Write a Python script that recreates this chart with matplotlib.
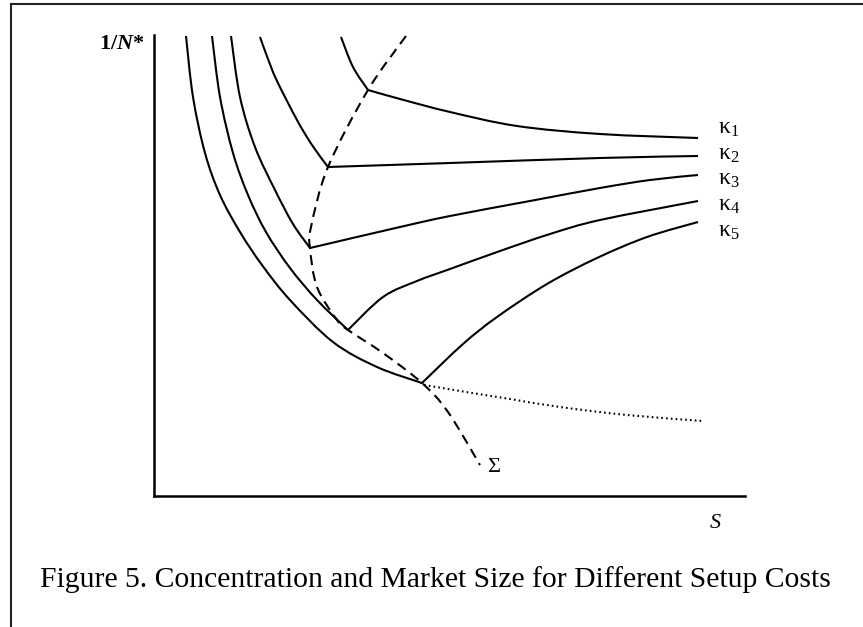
import matplotlib
matplotlib.use('Agg')
import matplotlib.pyplot as plt
import numpy as np
from matplotlib.lines import Line2D
from matplotlib.path import Path
from matplotlib.patches import PathPatch

plt.rcParams['mathtext.fontset'] = 'custom'
plt.rcParams['mathtext.rm'] = 'Liberation Serif'
plt.rcParams['mathtext.it'] = 'Liberation Serif:italic'
plt.rcParams['mathtext.bf'] = 'Liberation Serif:bold'
plt.rcParams['mathtext.bfit'] = 'Liberation Serif:italic:bold'

# falling part of each curve (market size S, concentration 1/N*)
left_s = [
    [0.32, 0.39, 0.51, 0.66, 0.86, 1.08, 1.36, 1.79, 2.23, 2.68],
    [0.58, 0.66, 0.79, 0.94, 1.12, 1.36, 1.63, 1.94],
    [0.77, 0.86, 1.01, 1.21, 1.39, 1.56],
    [1.06, 1.14, 1.23, 1.43, 1.58, 1.74],
    [1.87, 1.99, 2.14],
]
left_y = [
    [4.60, 3.99, 3.43, 3.01, 2.64, 2.31, 1.96, 1.54, 1.29, 1.13],
    [4.60, 3.99, 3.43, 3.01, 2.64, 2.28, 1.96, 1.66],
    [4.60, 3.99, 3.49, 3.06, 2.72, 2.48],
    [4.59, 4.37, 4.15, 3.76, 3.51, 3.29],
    [4.59, 4.29, 4.06],
]

# branches after the kink, kappa_5 ... kappa_1
right_s = [
    [2.68, 3.09, 3.43, 3.93, 4.43, 4.93, 5.44],
    [1.94, 2.29, 2.63, 2.96, 3.46, 3.96, 4.46, 5.44],
    [1.56, 2.46, 2.96, 3.76, 4.46, 4.96, 5.44],
    [1.74, 2.96, 4.46, 5.44],
    [2.14, 2.46, 2.96, 3.63, 4.46, 5.44],
]
right_y = [
    [1.13, 1.52, 1.79, 2.12, 2.38, 2.59, 2.74],
    [1.66, 1.99, 2.15, 2.27, 2.45, 2.62, 2.76, 2.95],
    [2.48, 2.69, 2.80, 2.95, 3.08, 3.16, 3.21],
    [3.29, 3.33, 3.38, 3.40],
    [4.06, 3.97, 3.84, 3.70, 3.62, 3.58],
]

# locus of kinks
sigma_s = [2.52, 2.14, 1.74, 1.57, 1.56, 1.63, 1.83, 1.94, 2.29, 2.68, 2.94, 3.26]
sigma_y = [4.60, 4.06, 3.29, 2.69, 2.48, 2.09, 1.76, 1.66, 1.43, 1.13, 0.84, 0.31]

# dotted continuation
dot_s = [2.68, 2.76, 3.56, 4.06, 4.73, 5.49]
dot_y = [1.13, 1.10, 0.97, 0.89, 0.81, 0.75]

kappa_labels = [r'$\mathrm{κ}_1$', r'$\mathrm{κ}_2$', r'$\mathrm{κ}_3$',
                r'$\mathrm{κ}_4$', r'$\mathrm{κ}_5$']
kappa_y = [3.69, 3.43, 3.18, 2.92, 2.66]

caption = 'Figure 5. Concentration and Market Size for Different Setup Costs'


def smooth_path(s, y):
    # cubic bezier segments through the read points (catmull-rom style handles)
    p = np.column_stack([s, y])
    verts = [p[0]]
    codes = [Path.MOVETO]
    n = len(p)
    for i in range(n - 1):
        p0 = p[i - 1] if i > 0 else p[i]
        p3 = p[i + 2] if i + 2 < n else p[i + 1]
        c1 = p[i] + (p[i + 1] - p0) / 6
        c2 = p[i + 1] - (p3 - p[i]) / 6
        verts += [c1, c2, p[i + 1]]
        codes += [Path.CURVE4] * 3
    return Path(verts, codes)


def draw(ax, s, y, **kw):
    ax.add_patch(PathPatch(smooth_path(s, y), fill=False, edgecolor='black',
                           capstyle='butt', joinstyle='round', **kw))


fig = plt.figure(figsize=(8.63, 6.27), dpi=100)
ax = fig.add_axes([154/863, 131/627, 591/863, 461/627])
ax.set_xlim(0, 5.91)
ax.set_ylim(0, 4.61)

for s, y in zip(left_s, left_y):
    draw(ax, s, y, lw=1.5)
for s, y in zip(right_s, right_y):
    draw(ax, s, y, lw=1.5)
draw(ax, sigma_s, sigma_y, lw=1.5, linestyle=(0, (4.8, 3)))
draw(ax, dot_s, dot_y, lw=1.5, linestyle=(0, (0.8, 1.5)))

for lab, y in zip(kappa_labels, kappa_y):
    ax.text(5.64, y, lab, fontsize=17, ha='left', va='center')
ax.text(3.33, 0.28, 'Σ', family='Liberation Serif', fontsize=16, ha='left', va='center')
ax.text(5.61, -0.27, 'S', family='Liberation Serif', style='italic', fontsize=16,
        ha='center', va='center', clip_on=False)
ax.text(-0.09, 4.53, r'$\mathbf{1/}\mathbfit{N}\mathbf{*}$', fontsize=16,
        ha='right', va='center', clip_on=False)

for side in ['top', 'right']:
    ax.spines[side].set_visible(False)
for side in ['left', 'bottom']:
    ax.spines[side].set_linewidth(1.8)
ax.set_xticks([])
ax.set_yticks([])

# frame around the figure (only left and top edges visible)
fig.add_artist(Line2D([11/863, 11/863], [0, 1 - 4/627], color='#222222', lw=1.5))
fig.add_artist(Line2D([11/863, 1], [1 - 4/627, 1 - 4/627], color='#222222', lw=1.5))

fig.text(435/863, 1 - 580/627, caption, family='Liberation Serif', fontsize=21.3,
         ha='center', va='center')

fig.savefig('out.png', dpi=100)
